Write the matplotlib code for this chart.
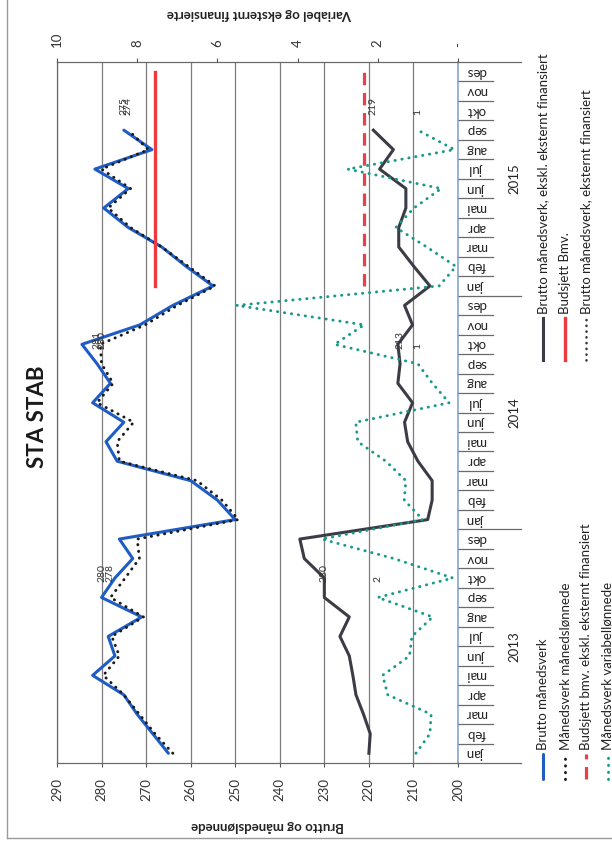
import matplotlib
matplotlib.use("Agg")
import matplotlib.pyplot as plt
from matplotlib.lines import Line2D
from matplotlib.transforms import blended_transform_factory
import numpy as np

plt.rcParams['font.family'] = ['Lato', 'DejaVu Sans']

nan = float('nan')

# ---------------------------------------------------------------- data
months = ["jan", "feb", "mar", "apr", "mai", "jun", "jul", "aug", "sep", "okt", "nov", "des"]
years = ["2013", "2014", "2015"]

# Brutto månedsverk (left axis)
brutto_mv = [265, 268.5, 272, 275, 282, 277, 278.5, 271, 280, 277, 273, 276,
             250, 254, 260, 276.5, 279, 275, 282, 278, 281, 284.4, 271.4, 264,
             255, 261, 266.5, 274, 279.5, 274, 281.5, 268.7, 275, nan, nan, nan]

# Månedsverk månedslønnede (left axis)
mndlonnede_mv = [264, 268, 271.5, 275, 279.6, 276, 277.7, 270.6, 278, 274.7, 271.5, 272,
                 249.3, 253, 258.6, 276, 276.5, 272.8, 281, 277.4, 280, 280.3, 270.2, 263,
                 254.5, 260.5, 266.5, 273.5, 278.5, 273.5, 280, 269.5, 274, nan, nan, nan]

# Brutto månedsverk, ekskl. eksternt finansiert (left axis)
brutto_ekskl_ekstern = [220, 219.7, 221.2, 222.9, 223.6, 224.4, 226.5, 224.4, 230, 230, 234.5, 235.5,
                        206.8, 205.8, 205.8, 209, 211.3, 212, 210.2, 213.5, 213, 213.5, 210.2, 212,
                        206.3, 209.9, 213.3, 213.3, 211.7, 211.7, 217.6, 214.5, 219, nan, nan, nan]

# Månedsverk variabellønnede (right axis)
variabel_mv = [1.05, 0.7, 0.67, 1.75, 1.88, 1.21, 1.15, 0.63, 2, 0.13, 1.6, 3.4,
               0.88, 1.34, 1.3, 1.8, 2.5, 2.55, 0.22, 0.64, 1, 3.08, 2.34, 5.52,
               0.47, 0.05, 0.78, 1.55, 1.1, 0.42, 2.75, 0.09, 1, nan, nan, nan]

# Brutto månedsverk, eksternt finansiert (right axis) - no values reported
brutto_ekstern = [nan] * 36

# Budgets for 2015 (left axis)
budsjett_bmv = [nan] * 24 + [268] * 12
budsjett_ekskl_ekstern = [nan] * 24 + [221] * 12

left_ticks = [290, 280, 270, 260, 250, 240, 230, 220, 210, 200]
right_ticks = [10, 8, 6, 4, 2, 0]
right_tick_labels = ["10", "8", "6", "4", "2", "-"]
labelled_months = [8, 20, 32]  # september of each year

# ---------------------------------------------------------------- styles
st_brutto = dict(color='#1f5cc4', lw=2.2, ls='-', solid_capstyle='round')
st_mnd = dict(color='#1a1a1a', lw=2.1, ls=(0, (0.1, 2.2)), dash_capstyle='round')
st_bud_ekskl = dict(color='#e8404c', lw=2.3, ls=(0, (3.9, 2.4)))
st_var = dict(color='#17998a', lw=2.1, ls=(0, (0.1, 2.3)), dash_capstyle='round')
st_ekskl = dict(color='#3c3c46', lw=2.2, ls='-')
st_bud = dict(color='#ee3a3e', lw=2.4, ls='-')
st_ekstern = dict(color='#333333', lw=1.8, ls=(0, (0.1, 2.2)), dash_capstyle='round')

W, H = 612, 846
fig = plt.figure(figsize=(W / 100, H / 100), dpi=100)
fig.patch.set_facecolor('white')


def fx(px):
    return px / W


def fy(py):
    return 1 - py / H


ax = fig.add_axes([fx(57), fy(763), fx(458) - fx(57), fy(62) - fy(763)])
ax.set_xlim(290, 200)
ax.set_ylim(-0.5, 35.5)
ax2 = ax.twiny()
ax2.set_xlim(10, 0)

idx = np.arange(36)

# value gridlines
ax.set_xticks(left_ticks)
ax.xaxis.grid(True, color='#7d7d7d', lw=0.9)
ax.set_axisbelow(True)
ax.set_yticks([])

for name, sp in ax.spines.items():
    sp.set_color('#6a6a6a')
    sp.set_linewidth(0.9)
ax.spines['right'].set_color('#7f9fd0')
ax.spines['right'].set_linewidth(1.1)
for name, sp in ax2.spines.items():
    sp.set_visible(False)

ax.tick_params(axis='x', direction='out', length=3, width=0.8, color='#555555',
               labelsize=9.5, pad=8, labelrotation=90, labelcolor='#333333')
ax2.set_xticks(right_ticks)
ax2.set_xticklabels(right_tick_labels)
ax2.tick_params(axis='x', direction='out', length=3, width=0.8, color='#555555',
                labelsize=9.5, pad=8, labelrotation=90, labelcolor='#333333')

# series
ax.plot(brutto_ekskl_ekstern, idx, zorder=3, **st_ekskl)
ax.plot(budsjett_ekskl_ekstern, idx, zorder=3, **st_bud_ekskl)
ax.plot(brutto_mv, idx, zorder=4, **st_brutto)
ax.plot(mndlonnede_mv, idx, zorder=5, **st_mnd)
ax.plot(budsjett_bmv, idx, zorder=6, **st_bud)
ax2.plot(variabel_mv, idx, zorder=3, **st_var)
ax2.plot(brutto_ekstern, idx, zorder=3, **st_ekstern)

# data labels for september values
for axis, series in [(ax, brutto_mv), (ax, mndlonnede_mv), (ax, brutto_ekskl_ekstern), (ax2, variabel_mv)]:
    for m in labelled_months:
        v = series[m]
        axis.annotate(f"{v:.0f}", (v, m), xytext=(0, 11), textcoords='offset points',
                      rotation=90, ha='center', va='bottom', fontsize=7.5, color='#333333',
                      zorder=7)

# category axis: months and years
trans = blended_transform_factory(ax.transAxes, ax.transData)
for i in range(36):
    ax.text(1.045, i, months[i % 12], transform=trans, rotation=180, ha='center', va='center',
            fontsize=9.5, color='#222222', clip_on=False)
for b in np.arange(-0.5, 36, 1.0):
    long_line = (b + 0.5) % 12 == 0
    ax.plot([1.0, 1.157 if long_line else 1.087], [b, b], transform=trans, color='#6a6a6a',
            lw=0.9, clip_on=False)
for k, yr in enumerate(years):
    ax.text(1.140, 12 * k + 5.5, yr, transform=trans, rotation=90, ha='center', va='center',
            fontsize=9.5, color='#222222', clip_on=False)

# titles
fig.text(fx(37), fy(417), "STA STAB", rotation=90, fontsize=16, fontweight='bold',
         ha='center', va='center', color='#1a1a1a')
fig.text(fx(268), fy(826), "Brutto og månedslønnede", rotation=180, fontsize=9.5,
         fontweight='bold', ha='center', va='center', color='#222222')
fig.text(fx(260), fy(14), "Variabel og eksternt finansierte", rotation=180, fontsize=9.5,
         fontweight='bold', ha='center', va='center', color='#222222')

# legend
legend_a = [("Brutto månedsverk", st_brutto),
            ("Månedsverk månedslønnede", st_mnd),
            ("Budsjett bmv. ekskl. eksternt finansiert", st_bud_ekskl),
            ("Månedsverk variabellønnede", st_var)]
legend_b = [("Brutto månedsverk, ekskl. eksternt finansiert", st_ekskl),
            ("Budsjett Bmv.", st_bud),
            ("Brutto månedsverk, eksternt finansiert", st_ekstern)]
col_x = [543, 565, 586, 608]


def draw_legend(entries, y_bottom, y_top, text_start):
    for (label, st), x in zip(entries, col_x):
        fig.add_artist(Line2D([fx(x), fx(x)], [fy(y_bottom), fy(y_top)],
                              transform=fig.transFigure, **st))
        fig.text(fx(x), fy(text_start), label, rotation=90, ha='center', va='bottom',
                 fontsize=9.5, color='#222222')


draw_legend(legend_a, 779, 754, 750)
draw_legend(legend_b, 360, 318, 314)

# page frame
fig.add_artist(Line2D([fx(7), fx(7)], [fy(0), fy(838)], transform=fig.transFigure,
                      color='#9a9a9a', lw=1))
fig.add_artist(Line2D([fx(7), 1], [fy(838), fy(838)], transform=fig.transFigure,
                      color='#9a9a9a', lw=1))

fig.savefig("out.png", dpi=100)
